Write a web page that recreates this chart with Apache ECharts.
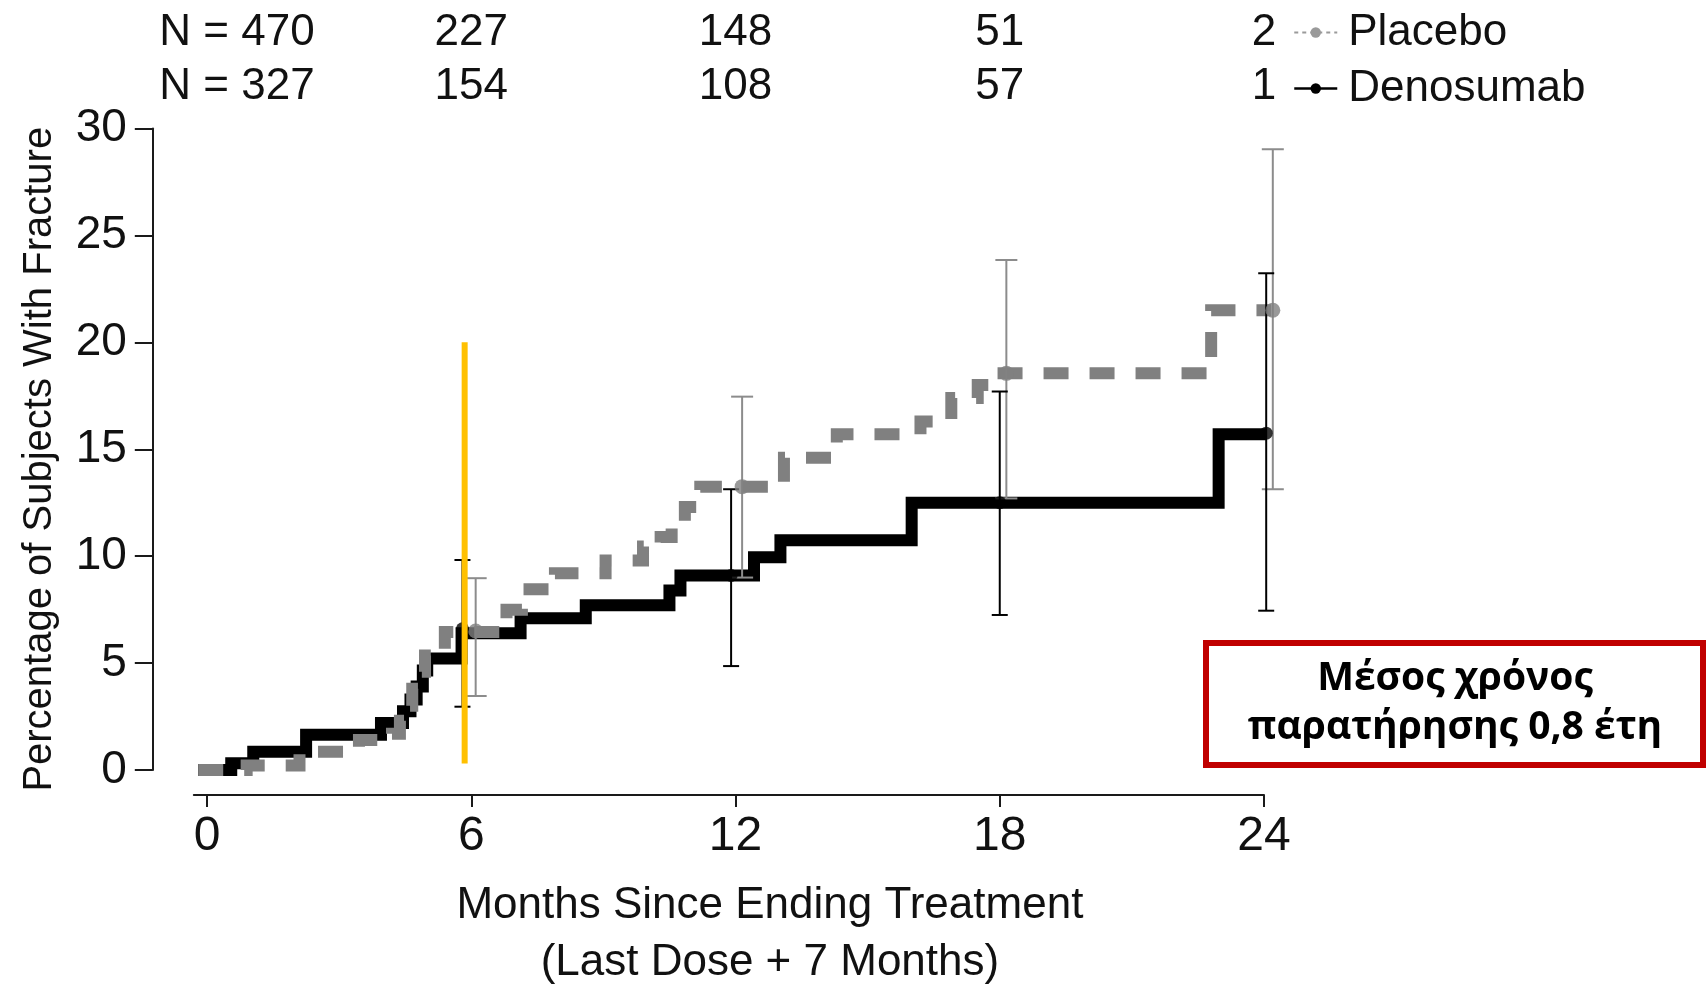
<!DOCTYPE html>
<html>
<head>
<meta charset="utf-8">
<title>Fracture incidence after ending treatment</title>
<script src="https://cdn.jsdelivr.net/npm/echarts@6/dist/echarts.min.js"></script>
<style>
  html, body { margin: 0; padding: 0; background: #ffffff; }
  #chart { width: 1707px; height: 986px; }
</style>
</head>
<body>
<div id="chart"></div>
<script>
// Axis ticks
const monthTicks = [0, 6, 12, 18, 24];

// Subjects at risk at each tick
const placeboAtRisk = [470, 227, 148, 51, 2];
const denosumabAtRisk = [327, 154, 108, 57, 1];

// Cumulative incidence steps: [month, percent] (value holds until the next step)
const denosumabSteps = [
  [-0.2, 0], [0.55, 0.31], [1.05, 0.85], [2.25, 1.65], [3.95, 2.2], [4.45, 2.75],
  [4.62, 3.3], [4.76, 3.9], [4.9, 4.65], [5.0, 5.22], [5.78, 6.4], [7.12, 7.1],
  [8.6, 7.7], [10.5, 8.4], [10.75, 9.1], [12.42, 9.95], [13.02, 10.75],
  [16.0, 12.5], [22.97, 15.7], [24.05, 15.7]
];
const placeboSteps = [
  [-0.2, 0], [0.9, 0.21], [2.1, 0.85], [3.45, 1.4], [4.2, 1.7], [4.38, 2.3],
  [4.52, 3.0], [4.66, 3.8], [4.8, 4.6], [4.95, 5.35], [5.4, 6.45], [6.8, 7.5],
  [7.15, 8.45], [7.9, 9.2], [9.05, 9.8], [9.9, 10.45], [10.3, 10.9],
  [10.55, 11.4], [10.85, 12.3], [11.2, 13.25], [13.1, 14.6], [14.3, 15.7],
  [16.2, 16.3], [16.9, 17.4], [17.5, 18.0], [17.8, 18.55], [22.8, 21.5],
  [24.2, 21.5]
];

// Point estimates with 95% confidence limits
const denosumabBarMonths = [5.8, 11.9, 18.0, 24.05];
const denosumabEstimate = [6.6, 9.1, 12.5, 15.75];
const denosumabLower = [2.96, 4.86, 7.25, 7.45];
const denosumabUpper = [9.82, 13.13, 17.7, 23.23];

const placeboBarMonths = [6.1, 12.15, 18.15, 24.2];
const placeboEstimate = [6.5, 13.25, 18.55, 21.5];
const placeboLower = [3.46, 9.0, 12.7, 13.13];
const placeboUpper = [8.97, 17.46, 23.85, 29.03];

// Highlight marker near six months
const highlightMonth = 5.85;
const highlightSpan = [0.3, 20];

// Note box text
const noteLines = ['Μέσος χρόνος', 'παρατήρησης 0,8 έτη'];

const sansFont = "'Liberation Sans', Arial, Helvetica, sans-serif";
const ink = '#111111';
const greyLine = '#808080';
const greyBar = '#8c8c8c';

const chart = echarts.init(document.getElementById('chart'), null, { renderer: 'canvas' });

function errorBars(name, months, lo, hi, color, capHalf, z) {
  return {
    type: 'custom',
    name: name,
    xAxisIndex: 0,
    yAxisIndex: 0,
    z: z,
    silent: true,
    clip: false,
    data: months.map((m, i) => [m, lo[i], hi[i]]),
    encode: { x: 0, y: [1, 2] },
    renderItem: function (params, api) {
      const top = api.coord([api.value(0), api.value(2)]);
      const bot = api.coord([api.value(0), api.value(1)]);
      const style = { stroke: color, lineWidth: 2 };
      return {
        type: 'group',
        children: [
          { type: 'line', shape: { x1: top[0], y1: top[1], x2: bot[0], y2: bot[1] }, style: style },
          { type: 'line', shape: { x1: top[0] - capHalf, y1: top[1], x2: top[0] + capHalf, y2: top[1] }, style: style },
          { type: 'line', shape: { x1: bot[0] - capHalf, y1: bot[1], x2: bot[0] + capHalf, y2: bot[1] }, style: style }
        ]
      };
    }
  };
}

function atRiskAxis(counts, offset) {
  return {
    type: 'value',
    position: 'top',
    min: -0.3,
    max: 24,
    offset: offset,
    axisLine: { show: false, onZero: false },
    axisTick: { show: false },
    splitLine: { show: false },
    axisLabel: {
      customValues: monthTicks,
      margin: 17,
      formatter: function (v) {
        const i = monthTicks.indexOf(v);
        if (i < 0) return '';
        return i === 0 ? '{lead|N = ' + counts[i] + '}' : '{n|' + counts[i] + '}';
      },
      rich: {
        lead: { fontFamily: sansFont, fontSize: 44, lineHeight: 50, color: ink, padding: [0, 0, 0, 60] },
        n: { fontFamily: sansFont, fontSize: 44, lineHeight: 50, color: ink }
      }
    }
  };
}

const option = {
  backgroundColor: '#ffffff',
  animation: false,
  grid: { left: 193.8, right: 443, top: 128.5, bottom: 216, containLabel: false, outerBoundsMode: 'none' },
  legend: {
    orient: 'vertical',
    left: 1293,
    top: 4.5,
    padding: 0,
    itemWidth: 43,
    itemHeight: 13,
    itemGap: 0,
    selectedMode: false,
    textStyle: { fontFamily: sansFont, fontSize: 44, lineHeight: 56, color: ink, padding: [0, 0, 0, 6] },
    data: [
      { name: 'Placebo', lineStyle: { width: 2, type: [4, 4], color: '#9a9a9a' }, itemStyle: { color: '#9a9a9a' } },
      { name: 'Denosumab', lineStyle: { width: 2.5, type: 'solid', color: '#000000' }, itemStyle: { color: '#000000' } }
    ]
  },
  xAxis: [
    {
      type: 'value',
      position: 'bottom',
      min: -0.3,
      max: 24,
      offset: 25,
      axisLine: { show: true, onZero: false, lineStyle: { color: '#1a1a1a', width: 2 } },
      axisTick: { show: true, customValues: monthTicks, length: 12, lineStyle: { color: '#1a1a1a', width: 2 } },
      axisLabel: { customValues: monthTicks, fontFamily: sansFont, fontSize: 48, lineHeight: 48, color: ink, margin: 18 },
      splitLine: { show: false },
      name: 'Months Since Ending Treatment\n(Last Dose + 7 Months)',
      nameLocation: 'middle',
      nameGap: 82,
      nameTextStyle: { fontFamily: sansFont, fontSize: 44, lineHeight: 57, color: ink, padding: [0, 0, 0, 82] }
    },
    atRiskAxis(placeboAtRisk, 53.5),
    atRiskAxis(denosumabAtRisk, 0)
  ],
  yAxis: {
    type: 'value',
    min: 0,
    max: 30,
    interval: 5,
    offset: 41,
    axisLine: { show: true, onZero: false, lineStyle: { color: '#1a1a1a', width: 2 } },
    axisTick: { show: true, length: 18, lineStyle: { color: '#1a1a1a', width: 2 } },
    axisLabel: { fontFamily: sansFont, fontSize: 46, color: ink, margin: 26 },
    splitLine: { show: false },
    name: 'Percentage of Subjects With Fracture',
    nameLocation: 'middle',
    nameRotate: 90,
    nameGap: 93,
    nameTextStyle: { fontFamily: sansFont, fontSize: 40, lineHeight: 40, color: ink, padding: [0, 20, 0, 0] }
  },
  series: [
    {
      name: 'Denosumab',
      type: 'line',
      step: 'end',
      data: denosumabSteps,
      symbol: 'circle',
      showSymbol: false,
      clip: false,
      z: 2,
      itemStyle: { color: '#000000' },
      lineStyle: { color: '#000000', width: 12, join: 'miter', cap: 'butt' }
    },
    {
      name: 'Placebo',
      type: 'line',
      step: 'end',
      data: placeboSteps,
      symbol: 'circle',
      showSymbol: false,
      clip: false,
      z: 3,
      itemStyle: { color: greyLine },
      lineStyle: { color: greyLine, width: 12, type: [25, 21], join: 'miter', cap: 'butt' }
    },
    errorBars('Placebo 95% CI', placeboBarMonths, placeboLower, placeboUpper, greyBar, 11, 4),
    errorBars('Denosumab 95% CI', denosumabBarMonths, denosumabLower, denosumabUpper, '#000000', 8, 5),
    {
      name: 'Placebo estimate',
      type: 'scatter',
      data: placeboBarMonths.map((m, i) => [m, placeboEstimate[i]]),
      symbol: 'circle',
      symbolSize: 15,
      clip: false,
      z: 6,
      silent: true,
      itemStyle: { color: greyLine }
    },
    {
      name: 'Denosumab estimate',
      type: 'scatter',
      data: denosumabBarMonths.map((m, i) => [m, denosumabEstimate[i]]),
      symbol: 'circle',
      symbolSize: 13,
      clip: false,
      z: 7,
      silent: true,
      itemStyle: { color: '#000000' }
    },
    {
      name: 'Highlight',
      type: 'line',
      data: highlightSpan.map(v => [highlightMonth, v]),
      symbol: 'none',
      clip: false,
      z: 8,
      silent: true,
      lineStyle: { color: '#FFC000', width: 6, cap: 'butt' }
    }
  ],
  graphic: [
    {
      type: 'group',
      left: 1203,
      top: 640,
      children: [
        {
          type: 'rect',
          shape: { x: 3, y: 3, width: 497, height: 122 },
          style: { fill: '#ffffff', stroke: '#C00000', lineWidth: 6 }
        },
        {
          type: 'text',
          x: 252,
          y: 63,
          style: {
            text: noteLines.join('\n'),
            align: 'center',
            verticalAlign: 'middle',
            fontFamily: "'Open Sans', 'Noto Sans', sans-serif",
            fontWeight: 'bold',
            fontSize: 39,
            lineHeight: 49,
            fill: '#000000'
          }
        }
      ]
    }
  ]
};

chart.setOption(option);
</script>
</body>
</html>
